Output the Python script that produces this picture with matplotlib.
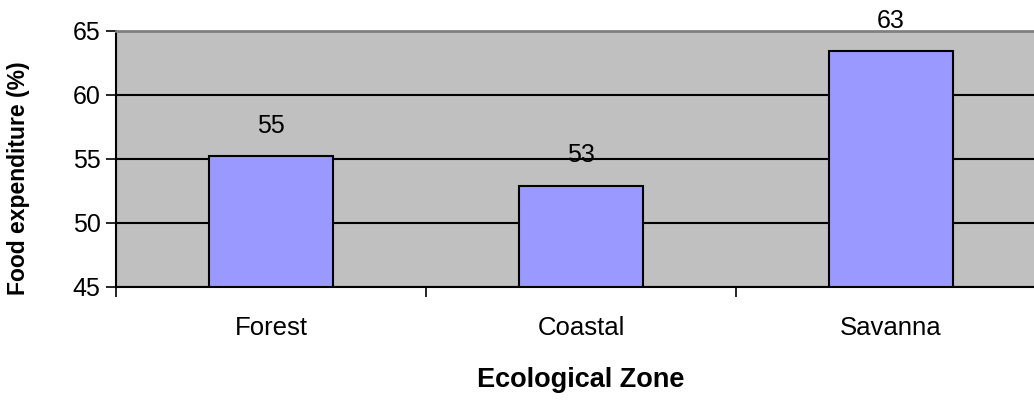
import matplotlib
matplotlib.use("Agg")
import matplotlib.pyplot as plt
from matplotlib.ticker import FixedLocator

categories = ["Forest", "Coastal", "Savanna"]
values = [55.2, 52.9, 63.4]
labels = ["55", "53", "63"]
yticks = [45, 50, 55, 60, 65]

plt.rcParams['font.family'] = ['Liberation Sans', 'DejaVu Sans']

fig = plt.figure(figsize=(10.34, 4.0), dpi=100)
ax = fig.add_axes([116/1034, 113/400, 930/1034, 256/400])
ax.set_facecolor('#C0C0C0')

x = list(range(len(categories)))
ax.bar(x, [v - 45 for v in values], bottom=45, width=0.40, color='#9999FF',
       edgecolor='black', linewidth=1.5, zorder=3)
for xi, v, lab in zip(x, values, labels):
    ax.annotate(lab, (xi, v), xytext=(0, 22), textcoords='offset points',
                ha='center', va='center', fontsize=18, zorder=4, annotation_clip=False)

ax.set_xlim(-0.5, 2.5)
ax.set_ylim(45, 65)
ax.set_yticks(yticks)
ax.set_yticklabels([str(t) for t in yticks], fontsize=18)
ax.set_xticks(x)
ax.set_xticklabels(categories, fontsize=18.5)
ax.xaxis.set_minor_locator(FixedLocator([-0.5, 0.5, 1.5, 2.5]))
ax.tick_params(axis='x', which='major', length=0, pad=21)
ax.tick_params(axis='x', which='minor', length=7, width=1.2, direction='out')
ax.tick_params(axis='y', length=7, width=1.2, direction='out', pad=4)

ax.yaxis.grid(True, color='black', linewidth=1.5, zorder=1)
ax.set_axisbelow(True)

for s in ['left', 'bottom']:
    ax.spines[s].set_color('black')
    ax.spines[s].set_linewidth(1.5)
ax.spines['top'].set_color('#808080')
ax.spines['top'].set_linewidth(2)
ax.spines['right'].set_visible(False)

ax.set_xlabel('Ecological Zone', fontsize=19.5, fontweight='bold', labelpad=19)
fig.text(19/1034, 1 - 178/400, 'Food expenditure (%)', rotation=90, fontsize=16.5,
         fontweight='bold', ha='center', va='center')

fig.savefig('out.png', dpi=100)
